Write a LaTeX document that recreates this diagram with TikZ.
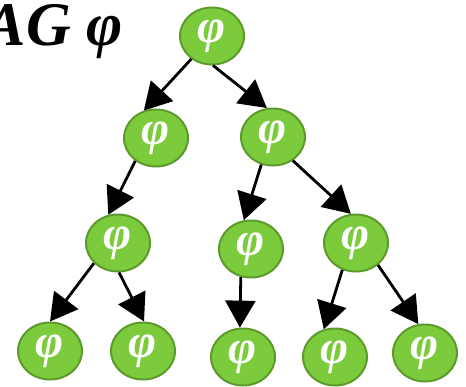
\documentclass[tikz,border=0pt]{standalone}
\usepackage{fontspec}
\setmainfont{Liberation Serif}
\usetikzlibrary{arrows.meta,shapes.geometric}
\definecolor{phifill}{HTML}{7CCB3C}
\definecolor{phiedge}{HTML}{5C9A2C}
\begin{document}
\begin{tikzpicture}[x=1pt,y=-1pt,
  phinode/.style={ellipse,draw=phiedge,line width=2pt,fill=phifill,minimum width=64pt,minimum height=57pt,inner sep=0pt,
    font=\fontsize{48}{48}\selectfont\bfseries\itshape,text=white},
  link/.style={line width=2.8pt,-{Triangle[length=27pt,width=30pt]},shorten <=0pt,shorten >=0pt}]
\useasboundingbox (0,0) rectangle (466,386);
\node[anchor=base east,inner sep=0pt,font=\fontsize{62}{62}\selectfont\bfseries\itshape] (title) at (123,45) {AG φ};
\node[phinode] (r) at (212,36) {φ};
\node[phinode] (a) at (156,138) {φ};
\node[phinode] (b) at (273,137) {φ};
\node[phinode] (c) at (118,243) {φ};
\node[phinode] (d) at (251,249) {φ};
\node[phinode] (e) at (356,243) {φ};
\node[phinode] (f) at (50,351) {φ};
\node[phinode] (g) at (143,351) {φ};
\node[phinode] (h) at (243,357) {φ};
\node[phinode] (i) at (335,357) {φ};
\node[phinode] (j) at (425,353) {φ};
\draw[link] (r.228) -- (a.114);
\draw[link] (r.272) -- (b.102);
\draw[link] (a.228) -- (c.109);
\draw[link] (b.247) -- (d.104);
\draw[link] (b.310) -- (e.100);
\draw[link] (c.220) -- (f.90);
\draw[link] (c.272) -- (g.88);
\draw[link] (d.250) -- (h.96);
\draw[link] (e.243) -- (i.112);
\draw[link] (e.315) -- (j.103);
\end{tikzpicture}
\end{document}
